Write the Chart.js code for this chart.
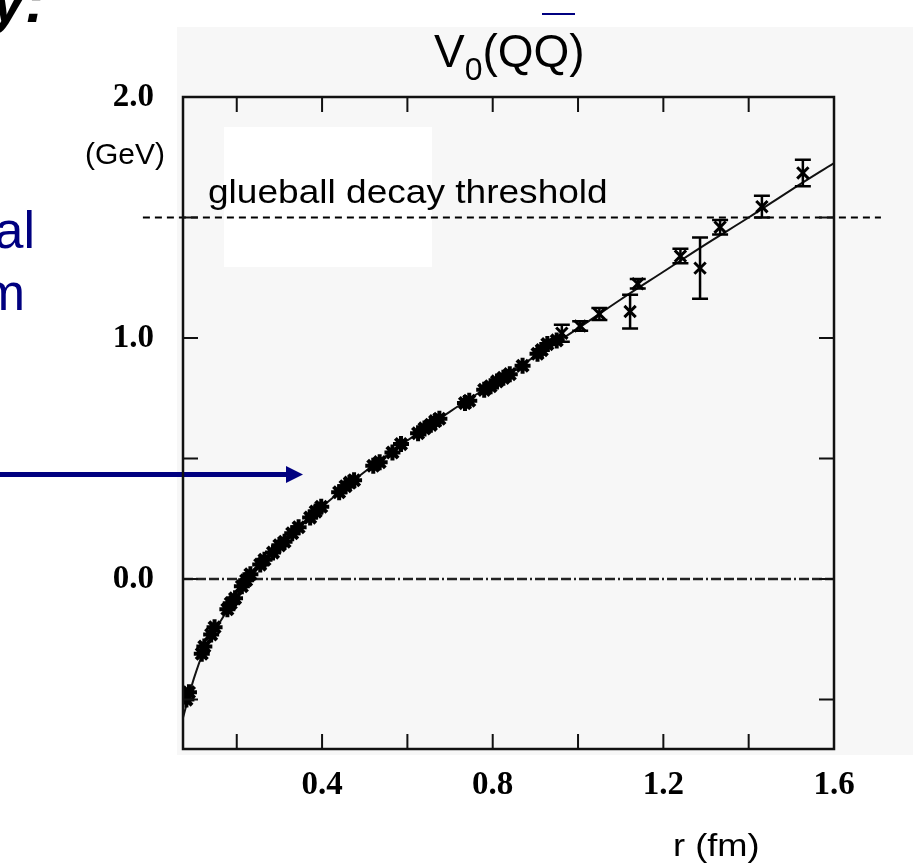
<!DOCTYPE html>
<html lang="en">
<head>
    <meta charset="UTF-8">
    <title>V0(QQ) static potential</title>
    <script src="https://cdn.jsdelivr.net/npm/chart.js@4"></script>
    <style>
        html, body { margin: 0; padding: 0; background: #fff; }
        #wrap { position: relative; width: 913px; height: 865px; overflow: hidden; }
        #chart { position: absolute; left: 0; top: 0; }
        .txt {
            position: absolute; white-space: nowrap; line-height: 1;
            font-family: 'Liberation Sans', Arial, sans-serif; color: #000;
            transform-origin: 0 0;
        }
        .blue { color: #000080; }
        .sub { font-size: 32px; position: relative; top: 13px; }
    </style>
</head>
<body>
<div id="wrap">
    <canvas id="chart" width="913" height="865"></canvas>

    <!-- slide leftovers around the plot -->
    <div class="txt" style="right:868px; top:-28px; font-size:60px; font-weight:bold; font-style:italic;">y:</div>
    <div class="txt blue" style="right:878px; top:204px; font-size:52px;">al</div>
    <div class="txt blue" style="right:888px; top:266px; font-size:52px;">m</div>

    <!-- plot annotations -->
    <div class="txt" style="left:434px; top:28px; font-size:46px;">V<span class="sub">0</span>(QQ)</div>
    <div class="txt" style="left:85px; top:139px; font-size:30px;">(GeV)</div>
    <div class="txt" style="left:208px; top:174px; font-size:34px; transform:scaleX(1.09);">glueball decay threshold</div>
    <div class="txt" style="left:673px; top:830px; font-size:31px; transform:scaleX(1.17);">r (fm)</div>
</div>

<script>
    // axis ranges (r in fm, V in GeV)
    const X_MIN = 0.074, X_MAX = 1.6;
    const Y_MIN = -0.705, Y_MAX = 2.0;

    const xTickLabels = [0.4, 0.8, 1.2, 1.6];
    const yTickLabels = [0.0, 1.0, 2.0];
    const xMinorTicks = [0.2, 0.4, 0.6, 0.8, 1.0, 1.2, 1.4];
    const yMinorTicks = [-0.5, 0.0, 0.5, 1.0, 1.5];

    const threshold = 1.5;
    const thresholdSpan = [-0.02, 1.71];

    // lattice points, small errors (star markers)
    const rStar = [0.082, 0.088, 0.118, 0.124, 0.140, 0.148, 0.178, 0.186, 0.196, 0.212,
                   0.222, 0.232, 0.255, 0.265, 0.285, 0.300, 0.312, 0.330, 0.345, 0.372,
                   0.385, 0.398, 0.440, 0.455, 0.465, 0.475, 0.520, 0.535, 0.565, 0.585,
                   0.625, 0.640, 0.655, 0.665, 0.675, 0.735, 0.745, 0.780, 0.795, 0.810,
                   0.825, 0.840, 0.870, 0.905, 0.915, 0.928, 0.950];
    const vStar = [-0.50, -0.47, -0.31, -0.28, -0.23, -0.20, -0.125, -0.10, -0.08, -0.03,
                   -0.005, 0.02, 0.06, 0.08, 0.11, 0.14, 0.155, 0.19, 0.215, 0.255,
                   0.28, 0.30, 0.36, 0.385, 0.40, 0.41, 0.47, 0.485, 0.525, 0.56,
                   0.605, 0.625, 0.64, 0.655, 0.665, 0.73, 0.74, 0.785, 0.80, 0.82,
                   0.835, 0.85, 0.885, 0.935, 0.95, 0.975, 0.99];

    // points drawn with error bars
    const rErr = [0.962, 1.005, 1.050, 1.122, 1.140, 1.240, 1.286, 1.333, 1.431, 1.527];
    const vErr = [1.020, 1.050, 1.100, 1.110, 1.225, 1.340, 1.290, 1.460, 1.545, 1.685];
    const eErr = [0.035, 0.020, 0.025, 0.070, 0.020, 0.030, 0.127, 0.030, 0.045, 0.055];

    // fitted Cornell curve
    const rFit = [0.074, 0.09, 0.10, 0.12, 0.15, 0.18, 0.22, 0.25, 0.30, 0.35, 0.40,
                  0.50, 0.60, 0.70, 0.80, 0.90, 1.00, 1.10, 1.20, 1.30, 1.40, 1.50, 1.60];
    const vFit = [-0.575, -0.47, -0.41, -0.31, -0.21, -0.125, -0.02, 0.045, 0.15, 0.225, 0.30,
                  0.445, 0.575, 0.695, 0.81, 0.925, 1.04, 1.16, 1.275, 1.39, 1.50, 1.615, 1.726];

    const TICK = 15;
    const NAVY = '#000080';

    const toXY = (xs, ys) => xs.map((x, i) => ({ x: x, y: ys[i] }));

    // page background, white label box, arrow and title overbar
    const backdrop = {
        id: 'backdrop',
        beforeDraw(chart) {
            const ctx = chart.ctx;
            ctx.save();
            ctx.fillStyle = '#fff';
            ctx.fillRect(0, 0, chart.width, chart.height);
            ctx.fillStyle = '#f7f7f7';
            ctx.fillRect(177, 27, chart.width - 177, 728);
            ctx.fillStyle = '#fff';
            ctx.fillRect(224, 127, 208, 140);

            // arrow pointing at the curve
            ctx.fillStyle = NAVY;
            ctx.fillRect(0, 472, 288, 5);
            ctx.beginPath();
            ctx.moveTo(286, 466);
            ctx.lineTo(303, 474.5);
            ctx.lineTo(286, 483);
            ctx.closePath();
            ctx.fill();

            // bar over the second Q
            ctx.fillRect(542, 13, 33, 2);
            ctx.restore();
        }
    };

    // box frame with inward ticks on all four sides
    const frame = {
        id: 'frame',
        afterDatasetsDraw(chart) {
            const { ctx, chartArea: a, scales: { x, y } } = chart;
            ctx.save();
            ctx.strokeStyle = '#111';
            ctx.lineWidth = 2.5;
            ctx.strokeRect(a.left, a.top, a.right - a.left, a.bottom - a.top);
            ctx.lineWidth = 2;
            ctx.beginPath();
            xMinorTicks.forEach(v => {
                const px = x.getPixelForValue(v);
                ctx.moveTo(px, a.top); ctx.lineTo(px, a.top + TICK);
                ctx.moveTo(px, a.bottom); ctx.lineTo(px, a.bottom - TICK);
            });
            yMinorTicks.forEach(v => {
                const py = y.getPixelForValue(v);
                ctx.moveTo(a.left, py); ctx.lineTo(a.left + TICK, py);
                ctx.moveTo(a.right, py); ctx.lineTo(a.right - TICK, py);
            });
            ctx.stroke();
            ctx.restore();
        }
    };

    // vertical error bars with caps
    const errorBars = {
        id: 'errorBars',
        afterDatasetsDraw(chart) {
            const { ctx, scales: { x, y } } = chart;
            ctx.save();
            ctx.strokeStyle = '#000';
            ctx.lineWidth = 2.5;
            ctx.beginPath();
            rErr.forEach((r, i) => {
                const px = x.getPixelForValue(r);
                const top = y.getPixelForValue(vErr[i] + eErr[i]);
                const bot = y.getPixelForValue(vErr[i] - eErr[i]);
                ctx.moveTo(px, top); ctx.lineTo(px, bot);
                ctx.moveTo(px - 8, top); ctx.lineTo(px + 8, top);
                ctx.moveTo(px - 8, bot); ctx.lineTo(px + 8, bot);
            });
            ctx.stroke();
            ctx.restore();
        }
    };

    const tickFont = { family: "'Liberation Serif', 'Times New Roman', serif", size: 33, weight: 'bold' };

    new Chart(document.getElementById('chart'), {
        type: 'scatter',
        data: {
            datasets: [
                {
                    label: 'lattice',
                    data: toXY(rStar, vStar),
                    pointStyle: 'star',
                    pointRadius: 8,
                    borderColor: '#000',
                    backgroundColor: '#000',
                    borderWidth: 4
                },
                {
                    label: 'lattice (large r)',
                    data: toXY(rErr, vErr),
                    pointStyle: 'crossRot',
                    pointRadius: 8,
                    borderColor: '#000',
                    borderWidth: 3
                },
                {
                    label: 'fit',
                    type: 'line',
                    data: toXY(rFit, vFit),
                    borderColor: '#111',
                    borderWidth: 2,
                    pointRadius: 0,
                    cubicInterpolationMode: 'monotone'
                },
                {
                    label: 'zero',
                    type: 'line',
                    data: toXY([X_MIN, X_MAX], [0, 0]),
                    borderColor: '#222',
                    borderWidth: 2.5,
                    borderDash: [10, 3, 10, 3, 10, 3, 2, 3],
                    pointRadius: 0
                },
                {
                    label: 'glueball decay threshold',
                    type: 'line',
                    data: toXY(thresholdSpan, [threshold, threshold]),
                    borderColor: '#000',
                    borderWidth: 2,
                    borderDash: [7, 5],
                    pointRadius: 0,
                    clip: false
                }
            ]
        },
        options: {
            responsive: false,
            animation: false,
            devicePixelRatio: 1,
            layout: { padding: { top: 97, right: 79, left: 0, bottom: 0 } },
            plugins: {
                legend: { display: false },
                tooltip: { enabled: false }
            },
            scales: {
                x: {
                    type: 'linear',
                    min: X_MIN,
                    max: X_MAX,
                    grid: { display: false, drawTicks: false },
                    border: { display: false },
                    afterBuildTicks: s => { s.ticks = xTickLabels.map(v => ({ value: v })); },
                    afterFit: s => { s.height = 116; },
                    ticks: {
                        autoSkip: false,
                        maxRotation: 0,
                        padding: 17,
                        color: '#000',
                        font: tickFont,
                        callback: v => v.toFixed(1)
                    }
                },
                y: {
                    min: Y_MIN,
                    max: Y_MAX,
                    grid: { display: false, drawTicks: false },
                    border: { display: false },
                    afterBuildTicks: s => { s.ticks = yTickLabels.map(v => ({ value: v })); },
                    afterFit: s => { s.width = 183; },
                    ticks: {
                        padding: 29,
                        color: '#000',
                        font: tickFont,
                        callback: v => v.toFixed(1)
                    }
                }
            }
        },
        plugins: [backdrop, errorBars, frame]
    });
</script>
</body>
</html>
